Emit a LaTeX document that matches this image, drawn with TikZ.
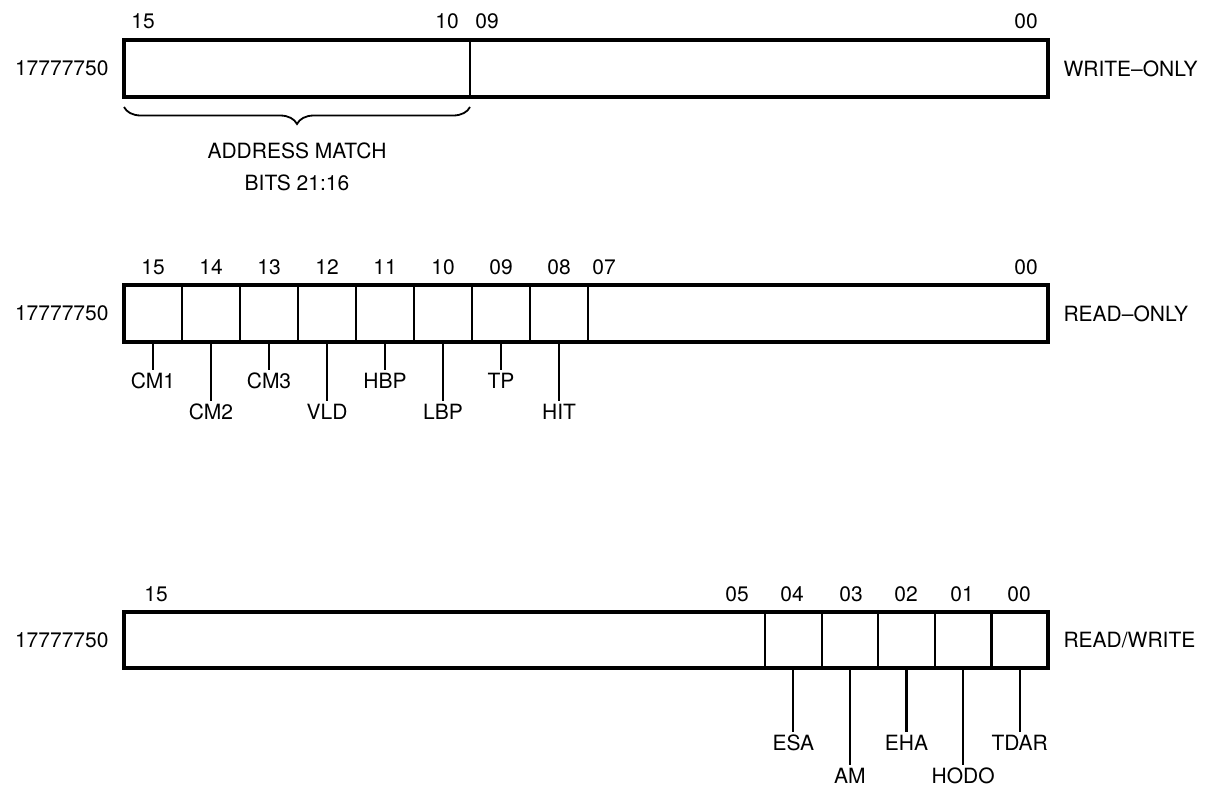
\documentclass[tikz,border=0pt]{standalone}
\usepackage{fontspec}
\setmainfont{TeX Gyre Heros}
\usetikzlibrary{decorations.pathreplacing}

\begin{document}
\begin{tikzpicture}[x=1pt, y=-1pt,
      every node/.style={font=\fontsize{21}{25}\selectfont},
      cell/.style={draw, line width=2.2pt, outer sep=0pt, inner sep=0pt, minimum height=57pt},
      frame/.style={draw, line width=3.6pt, line join=miter},
      tick/.style={draw, line width=2.2pt},
      bitno/.style={inner sep=1pt},
      fieldname/.style={inner sep=3pt, anchor=north}]
    \useasboundingbox (0,0) rectangle (1231,801);

    % write-only register
    \node[cell, minimum width=346pt] (wHi) at (297,68.5) {};
    \node[cell, minimum width=578pt] (wLo) at (759,68.5) {};
    \draw[frame] (wHi.north west) rectangle (wLo.south east);
    \node[anchor=east] (addrA) at (112,68.5) {17777750};
    \node[anchor=west] (accA) at (1060,68.5) {WRITE–ONLY};
    \node[bitno] at (143,21) {15};
    \node[bitno] at (447,21) {10};
    \node[bitno] at (487,21) {09};
    \node[bitno] at (1026,21) {00};
    % brace under bits 15:10
    \coordinate (brR) at (470,107);
    \coordinate (brL) at (124,107);
    \draw[decorate, decoration={brace, amplitude=17pt}, line width=1.8pt] (brR) -- (brL);
    \node (match) at (297,151) {ADDRESS MATCH};
    \node (mbits) at (297,183) {BITS 21:16};

    % read-only register
    \node[cell, minimum width=58pt] (cmA) at (153,313.5) {};
    \node[cell, minimum width=58pt] (cmB) at (211,313.5) {};
    \node[cell, minimum width=58pt] (cmC) at (269,313.5) {};
    \node[cell, minimum width=58pt] (vld) at (327,313.5) {};
    \node[cell, minimum width=58pt] (hbp) at (385,313.5) {};
    \node[cell, minimum width=58pt] (lbp) at (443,313.5) {};
    \node[cell, minimum width=58pt] (tp) at (501,313.5) {};
    \node[cell, minimum width=58pt] (hit) at (559,313.5) {};
    \node[cell, minimum width=460pt] (rRest) at (818,313.5) {};
    \draw[frame] (cmA.north west) rectangle (rRest.south east);
    \node[anchor=east] (addrB) at (112,313.5) {17777750};
    \node[anchor=west] (accB) at (1060,313.5) {READ–ONLY};
    \node[bitno] at (153,267) {15};
    \node[bitno] at (211,267) {14};
    \node[bitno] at (269,267) {13};
    \node[bitno] at (327,267) {12};
    \node[bitno] at (385,267) {11};
    \node[bitno] at (443,267) {10};
    \node[bitno] at (501,267) {09};
    \node[bitno] at (559,267) {08};
    \node[bitno] at (604,267) {07};
    \node[bitno] at (1026,267) {00};
    % field names, alternating rows
    \node[fieldname] (cmAn) at (153,370) {CM1};
    \node[fieldname] (cmBn) at (211,401) {CM2};
    \node[fieldname] (cmCn) at (269,370) {CM3};
    \node[fieldname] (vldn) at (327,401) {VLD};
    \node[fieldname] (hbpn) at (385,370) {HBP};
    \node[fieldname] (lbpn) at (443,401) {LBP};
    \node[fieldname] (tpn) at (501,370) {TP};
    \node[fieldname] (hitn) at (559,401) {HIT};
    \draw[tick] (cmA.south) -- (cmAn.north);
    \draw[tick] (cmB.south) -- (cmBn.north);
    \draw[tick] (cmC.south) -- (cmCn.north);
    \draw[tick] (vld.south) -- (vldn.north);
    \draw[tick] (hbp.south) -- (hbpn.north);
    \draw[tick] (lbp.south) -- (lbpn.north);
    \draw[tick] (tp.south) -- (tpn.north);
    \draw[tick] (hit.south) -- (hitn.north);

    % read/write register
    \node[cell, minimum width=641pt, minimum height=56pt] (rwRest) at (444.5,640) {};
    \node[cell, minimum width=56.6pt, minimum height=56pt] (esa) at (793.3,640) {};
    \node[cell, minimum width=56.6pt, minimum height=56pt] (am) at (849.9,640) {};
    \node[cell, minimum width=56.6pt, minimum height=56pt] (eha) at (906.5,640) {};
    \node[cell, minimum width=56.6pt, minimum height=56pt] (hodo) at (963.1,640) {};
    \node[cell, minimum width=56.6pt, minimum height=56pt] (tdar) at (1019.7,640) {};
    \draw[frame] (rwRest.north west) rectangle (tdar.south east);
    \node[anchor=east] (addrC) at (112,640) {17777750};
    \node[anchor=west] (accC) at (1060,640) {READ/WRITE};
    \node[bitno] at (156,594) {15};
    \node[bitno] at (737,594) {05};
    \node[bitno] at (792,594) {04};
    \node[bitno] at (851,594) {03};
    \node[bitno] at (906,594) {02};
    \node[bitno] at (962,594) {01};
    \node[bitno] at (1019,594) {00};
    \node[fieldname] (esan) at (793.3,732) {ESA};
    \node[fieldname] (amn) at (849.9,765) {AM};
    \node[fieldname] (ehan) at (906.5,732) {EHA};
    \node[fieldname] (hodon) at (963.1,765) {HODO};
    \node[fieldname] (tdarn) at (1019.7,732) {TDAR};
    \draw[tick] (esa.south) -- (esan.north);
    \draw[tick] (am.south) -- (amn.north);
    \draw[tick] (eha.south) -- (ehan.north);
    \draw[tick] (hodo.south) -- (hodon.north);
    \draw[tick] (tdar.south) -- (tdarn.north);
  \end{tikzpicture}
\end{document}
